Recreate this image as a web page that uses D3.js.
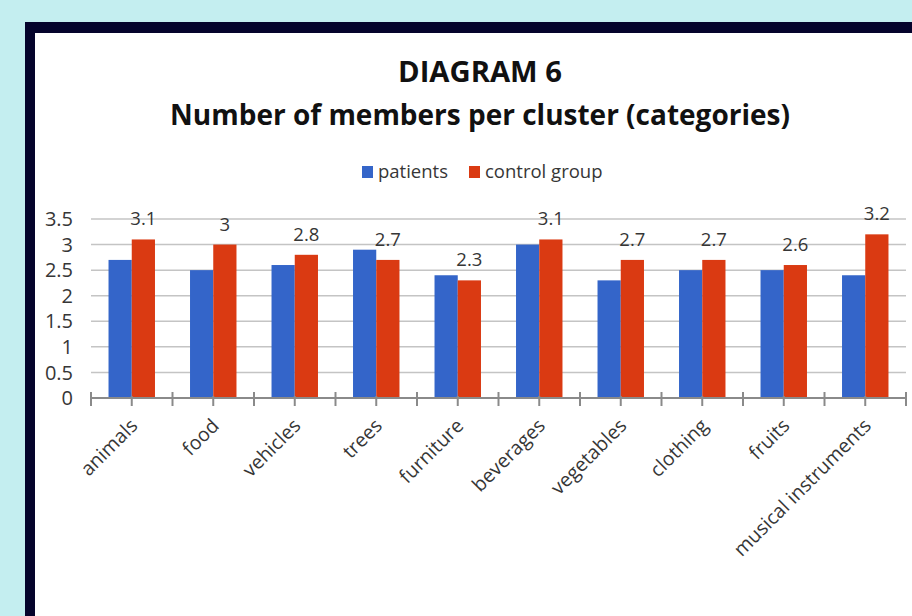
<!DOCTYPE html>
<html>
<head>
<meta charset="utf-8">
<script src="https://cdn.jsdelivr.net/npm/d3@7"></script>
<style>
  html, body { margin: 0; padding: 0; background: #c4eef0; }
  svg { display: block; }
  text { font-family: 'Open Sans', 'Noto Sans', sans-serif; }
</style>
</head>
<body>
<div id="chart"></div>
<script>
const categories = ['animals', 'food', 'vehicles', 'trees', 'furniture', 'beverages', 'vegetables', 'clothing', 'fruits', 'musical instruments']
const seriesNames = ['patients', 'control group']
const patients = [2.7, 2.5, 2.6, 2.9, 2.4, 3.0, 2.3, 2.5, 2.5, 2.4]
const controlGroup = [3.1, 3.0, 2.8, 2.7, 2.3, 3.1, 2.7, 2.7, 2.6, 3.2]
const yTicks = [0, 0.5, 1, 1.5, 2, 2.5, 3, 3.5]
const titleLines = ['DIAGRAM 6', 'Number of members per cluster (categories)']

const width = 912
const height = 616
const colors = ['#3465c9', '#da3a12']
const textColor = '#363636'

const svg = d3.select('#chart').append('svg').attr('width', width).attr('height', height)

// background + dark frame
svg.append('rect').attr('width', width).attr('height', height).attr('fill', '#c4eef0')
svg.append('rect').attr('x', 25).attr('y', 22).attr('width', width).attr('height', height).attr('fill', '#05042c')
svg.append('rect').attr('x', 35).attr('y', 33).attr('width', width).attr('height', height).attr('fill', '#ffffff')

// title, sized to the widths seen in the picture
const titleWidths = [164, 620]
const titleY = [82, 125]
titleLines.forEach((line, i) => {
	const t = svg.append('text')
		.attr('x', 480)
		.attr('y', titleY[i])
		.attr('text-anchor', 'middle')
		.attr('font-weight', 700)
		.attr('fill', '#111')
		.style('font-size', '100px')
		.text(line)
	const w = t.node().getComputedTextLength()
	t.style('font-size', (100 * titleWidths[i] / w).toFixed(2) + 'px')
})

// legend
const legend = svg.append('g').attr('transform', 'translate(362,166)')
const legendX = [0, 107]
seriesNames.forEach((name, i) => {
	const g = legend.append('g').attr('transform', `translate(${legendX[i]},0)`)
	g.append('rect').attr('width', 11).attr('height', 12).attr('fill', colors[i])
	g.append('text')
		.attr('x', 16)
		.attr('y', 12)
		.attr('fill', textColor)
		.style('font-size', '18.5px')
		.text(name)
})

// scales
const x = d3.scaleBand().domain(categories).range([91, 906]).padding(0)
const bw = x.bandwidth()
const xSub = d3.scaleBand().domain(seriesNames).range([bw * 0.215, bw * 0.785]).padding(0)
const y = d3.scaleLinear().domain([0, 3.5]).range([398, 219])

// gridlines
svg.append('g')
	.selectAll('line')
	.data(yTicks.filter((d) => d > 0))
	.join('line')
	.attr('x1', 91)
	.attr('x2', 906)
	.attr('y1', (d) => y(d))
	.attr('y2', (d) => y(d))
	.attr('stroke', '#c4c4c4')
	.attr('stroke-width', 1.5)

// y axis labels
svg.append('g')
	.selectAll('text')
	.data(yTicks)
	.join('text')
	.attr('x', 73)
	.attr('y', (d) => y(d))
	.attr('dy', '0.36em')
	.attr('text-anchor', 'end')
	.attr('fill', textColor)
	.style('font-size', '20px')
	.text((d) => d)

// bars
const rows = categories.map((c, i) => ({ category: c, values: [patients[i], controlGroup[i]] }))

const groups = svg.append('g')
	.selectAll('g')
	.data(rows)
	.join('g')
	.attr('transform', (d) => `translate(${x(d.category)},0)`)

groups.selectAll('rect')
	.data((d) => d.values.map((v, i) => ({ series: seriesNames[i], value: v, i })))
	.join('rect')
	.attr('x', (d) => xSub(d.series))
	.attr('width', xSub.bandwidth())
	.attr('y', (d) => y(d.value))
	.attr('height', (d) => y(0) - y(d.value))
	.attr('fill', (d) => colors[d.i])

// data labels over control group bars
groups.append('text')
	.attr('x', xSub('control group') + xSub.bandwidth() / 2)
	.attr('y', (d) => y(d.values[1]) - 14)
	.attr('text-anchor', 'middle')
	.attr('fill', textColor)
	.style('font-size', '18.5px')
	.text((d) => d.values[1])

// x axis line + ticks
const axis = svg.append('g').attr('stroke', '#8a8a8a').attr('stroke-width', 2)
axis.append('line').attr('x1', 91).attr('x2', 906).attr('y1', y(0)).attr('y2', y(0))
const boundaries = categories.map((c) => x(c)).concat([906])
axis.selectAll('.major')
	.data(boundaries)
	.join('line')
	.attr('class', 'major')
	.attr('x1', (d) => d)
	.attr('x2', (d) => d)
	.attr('y1', 392)
	.attr('y2', 406)
axis.selectAll('.minor')
	.data(categories)
	.join('line')
	.attr('class', 'minor')
	.attr('x1', (d) => x(d) + bw / 2)
	.attr('x2', (d) => x(d) + bw / 2)
	.attr('y1', 396)
	.attr('y2', 406)

// rotated category labels
svg.append('g')
	.selectAll('text')
	.data(categories)
	.join('text')
	.attr('transform', (d) => `translate(${x(d) + bw / 2 + 7},${427}) rotate(-45)`)
	.attr('text-anchor', 'end')
	.attr('fill', textColor)
	.style('font-size', '19.5px')
	.text((d) => d)
</script>
</body>
</html>
